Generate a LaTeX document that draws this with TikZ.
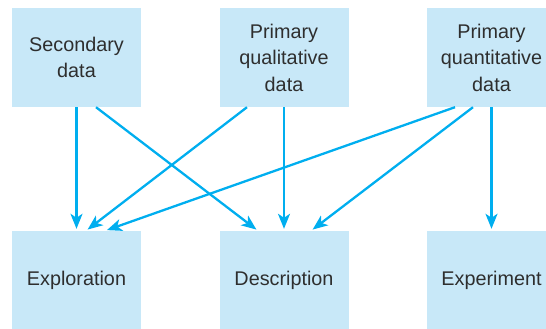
\documentclass[tikz,border=0pt]{standalone}
\usepackage{fontspec}
\setmainfont{Liberation Sans}
\usetikzlibrary{arrows.meta, calc}
\definecolor{boxblue}{HTML}{C8E8F8}
\definecolor{arrowblue}{HTML}{00AEEF}
\definecolor{textgray}{HTML}{2E2E2E}

\begin{document}
\begin{tikzpicture}[x=1pt, y=-1pt,
		box/.style={fill=boxblue, minimum width=129pt, minimum height=99pt, inner sep=0pt, align=center, text=textgray, font=\fontsize{19.8}{26.5}\selectfont},
		flow/.style={draw=arrowblue, line width=2.3pt, -{Stealth[length=15pt, width=12pt, inset=4pt]}, shorten >=2pt}]
		\useasboundingbox (0,0) rectangle (546,329);
		\node[box] (sec) at (76.5,57.5) {Secondary\\data};
		\node[box] (qual) at (284,57.5) {Primary\\qualitative\\data};
		\node[box] (quant) at (491.5,57.5) {Primary\\quantitative\\data};
		\node[box] (expl) at (76.5,280.5) {Exploration};
		\node[box] (desc) at (284,280.5) {Description};
		\node[box] (exper) at (491.5,280.5) {Experiment};
		\draw[flow] (sec.south) -- (expl.north);
		\draw[flow] ($(sec.south)+(19.5,0)$) -- ($(desc.north)+(-26,0)$);
		\draw[flow] ($(qual.south)+(-37,0)$) -- ($(expl.north)+(9.5,0)$);
		\draw[flow] (qual.south) -- (desc.north);
		\draw[flow] ($(quant.south)+(-36.5,0)$) -- ($(expl.north)+(28.5,0)$);
		\draw[flow] ($(quant.south)+(-18.5,0)$) -- ($(desc.north)+(27,0)$);
		\draw[flow] (quant.south) -- (exper.north);
	\end{tikzpicture}
\end{document}
